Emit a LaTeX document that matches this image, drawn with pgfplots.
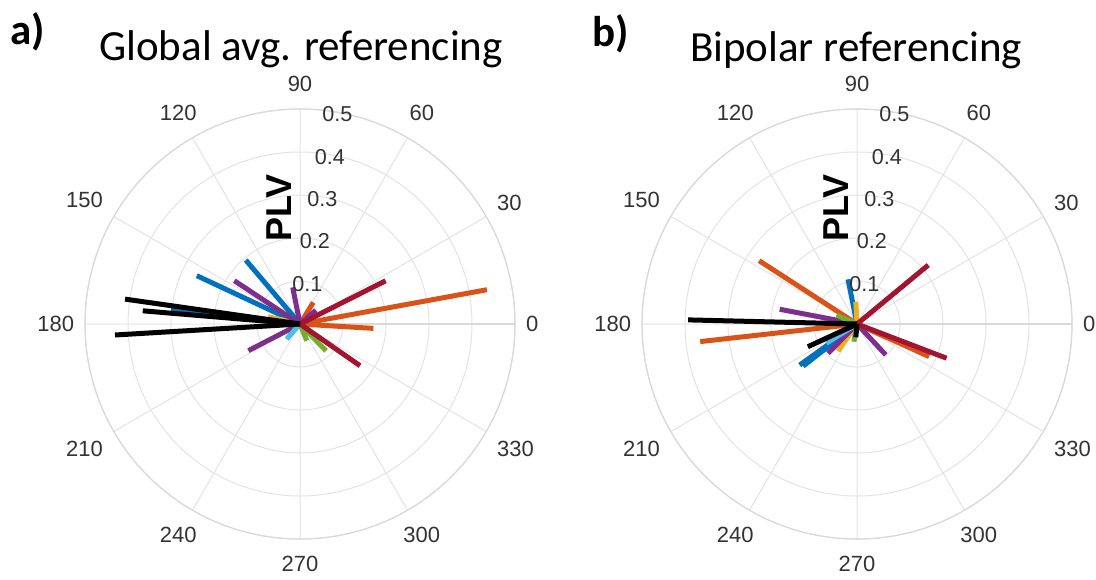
\documentclass[border=0pt]{standalone}
\usepackage{fontspec}
\setmainfont{Liberation Sans}
\newfontfamily\calibri{Carlito}
\usepackage{pgfplots}
\pgfplotsset{compat=1.18}
\usepgfplotslibrary{polar}

\definecolor{mblue}{rgb}{0,0.447,0.741}
\definecolor{morange}{rgb}{0.85,0.325,0.098}
\definecolor{myellow}{rgb}{0.929,0.694,0.125}
\definecolor{mpurple}{rgb}{0.494,0.184,0.556}
\definecolor{mgreen}{rgb}{0.466,0.674,0.188}
\definecolor{mcyan}{rgb}{0.301,0.745,0.933}
\definecolor{mred}{rgb}{0.635,0.078,0.184}
\definecolor{tickgray}{gray}{0.2}

% angle label: #1 angle, #2 opposite anchor
\newcommand\alab[2]{\node[text=tickgray, font=\fontsize{11}{12}\selectfont, anchor=#2,
  inner xsep=5.5pt, inner ysep=8.5pt, outer sep=0pt] at (axis cs:#1,0.5) {#1};}

\pgfplotsset{
  compass/.style={
    scale only axis, width=215pt, height=215pt,
    anchor=center, clip=false,
    xmin=0, xmax=360, ymin=0, ymax=0.5,
    xtick={0,30,...,330}, ytick={0.1,0.2,0.3,0.4,0.5},
    xticklabels={}, yticklabels={},
    major tick length=0pt,
    grid=major,
    major grid style={gray!22, line width=0.5pt},
    axis line style={gray!30, line width=0.6pt},
    every axis plot/.append style={line width=2.5pt},
  },
  compasslabels/.code={
    \alab{0}{180}\alab{30}{210}\alab{60}{240}\alab{90}{270}
    \alab{120}{300}\alab{150}{330}\alab{180}{0}\alab{210}{30}
    \alab{240}{60}\alab{270}{90}\alab{300}{120}\alab{330}{150}
    \pgfplotsinvokeforeach{0.1,0.2,0.3,0.4,0.5}{
      \node[text=tickgray, font=\fontsize{10.8}{12}\selectfont, yshift=-1pt] at (axis cs:80,##1) {##1};
    }
    \node[rotate=90, font=\fontsize{18}{19}\selectfont\bfseries] at (axis cs:100.3,0.274) {PLV};
  },
}

\begin{document}
\begin{tikzpicture}
\path[use as bounding box] (0,0) rectangle (548pt,-289.5pt);

% a) global average reference
\begin{polaraxis}[compass, at={(150pt,-162pt)}]
\addplot[mblue] coordinates {(0,0) (173.8,0.302)};
\addplot[mblue] coordinates {(0,0) (154.9,0.265)};
\addplot[mblue] coordinates {(0,0) (130.3,0.195)};
\addplot[morange] coordinates {(0,0) (10.4,0.442)};
\addplot[morange] coordinates {(0,0) (356.6,0.171)};
\addplot[morange] coordinates {(0,0) (58.4,0.059)};
\addplot[myellow] coordinates {(0,0) (167,0.076)};
\addplot[mpurple] coordinates {(0,0) (146.6,0.183)};
\addplot[mpurple] coordinates {(0,0) (101.3,0.087)};
\addplot[mpurple] coordinates {(0,0) (207.3,0.135)};
\addplot[mpurple] coordinates {(0,0) (41,0.049)};
\addplot[mgreen] coordinates {(0,0) (314.2,0.087)};
\addplot[mgreen] coordinates {(0,0) (292,0.042)};
\addplot[mcyan] coordinates {(0,0) (228.4,0.047)};
\addplot[mred] coordinates {(0,0) (26.8,0.223)};
\addplot[mred] coordinates {(0,0) (325.2,0.170)};
\addplot[black] coordinates {(0,0) (171.9,0.411)};
\addplot[black] coordinates {(0,0) (175.2,0.367)};
\addplot[black] coordinates {(0,0) (183.4,0.431)};
\pgfplotsset{compasslabels}
\end{polaraxis}

% b) bipolar reference
\begin{polaraxis}[compass, at={(428.5pt,-162pt)}]
\addplot[mblue] coordinates {(0,0) (215.6,0.164)};
\addplot[mblue] coordinates {(0,0) (218,0.159)};
\addplot[mblue] coordinates {(0,0) (101.4,0.106)};
\addplot[morange] coordinates {(0,0) (186.4,0.367)};
\addplot[morange] coordinates {(0,0) (147.1,0.271)};
\addplot[morange] coordinates {(0,0) (335.7,0.184)};
\addplot[myellow] coordinates {(0,0) (234.9,0.077)};
\addplot[myellow] coordinates {(0,0) (93,0.052)};
\addplot[mpurple] coordinates {(0,0) (169.2,0.183)};
\addplot[mpurple] coordinates {(0,0) (225.3,0.096)};
\addplot[mpurple] coordinates {(0,0) (313,0.098)};
\addplot[mgreen] coordinates {(0,0) (156.5,0.052)};
\addplot[mgreen] coordinates {(0,0) (260,0.042)};
\addplot[mcyan] coordinates {(0,0) (212,0.084)};
\addplot[mred] coordinates {(0,0) (39.6,0.215)};
\addplot[mred] coordinates {(0,0) (339.1,0.223)};
\addplot[black] coordinates {(0,0) (178.6,0.393)};
\addplot[black] coordinates {(0,0) (204.8,0.126)};
\addplot[black] coordinates {(0,0) (265,0.031)};
\pgfplotsset{compasslabels}
\end{polaraxis}

\node[font=\calibri\fontsize{21.5}{22}\selectfont\bfseries, anchor=base west, inner sep=0pt] at (5pt,-22pt) {a)};
\node[font=\calibri\fontsize{21.5}{22}\selectfont, anchor=base, inner sep=0pt] at (150.5pt,-30pt) {Global avg. referencing};
\node[font=\calibri\fontsize{21.5}{22}\selectfont\bfseries, anchor=base west, inner sep=0pt] at (296pt,-23pt) {b)};
\node[font=\calibri\fontsize{21.5}{22}\selectfont, anchor=base, inner sep=0pt] at (428pt,-30.5pt) {Bipolar referencing};
\end{tikzpicture}
\end{document}
